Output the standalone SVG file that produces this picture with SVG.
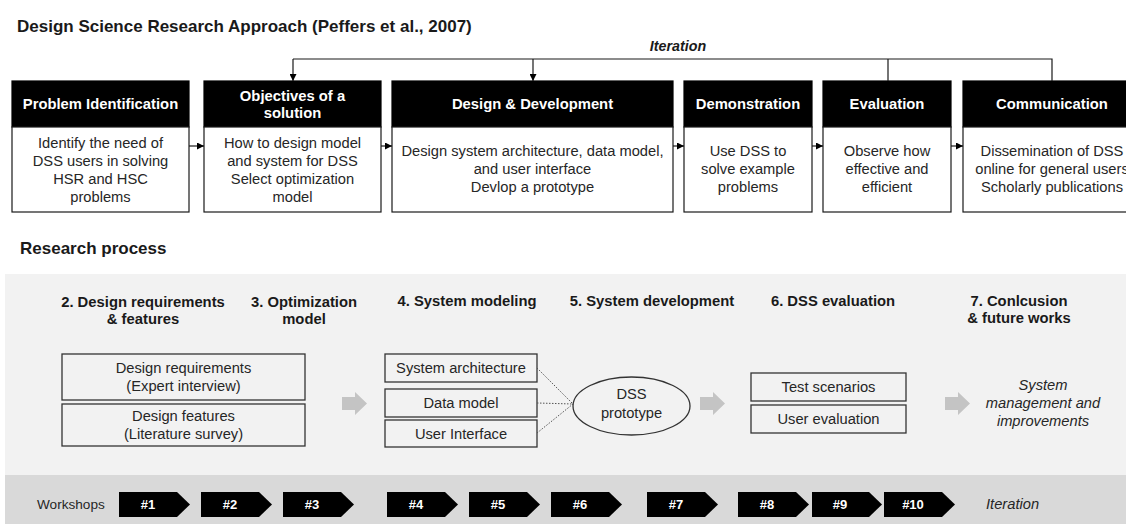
<svg xmlns="http://www.w3.org/2000/svg" width="1126" height="524" viewBox="0 0 1126 524">
<defs>
<style>
text{font-family:"Liberation Sans",Arial,sans-serif;fill:#1a1a1a}
.t{font-size:17px;font-weight:bold}
.hd{font-size:14.8px;font-weight:bold;fill:#fff;text-anchor:middle}
.bd{font-size:14.7px;text-anchor:middle;fill:#262626}
.hb{fill:#000;stroke:#000;stroke-width:1.2}
.bb{fill:#fff;stroke:#1a1a1a;stroke-width:1.2}
.sec{font-size:14.8px;font-weight:bold;text-anchor:middle}
.lb{fill:none;stroke:#333;stroke-width:1.3}
.ln{fill:none;stroke:#1a1a1a;stroke-width:1.2}
.dot{stroke:#555;stroke-width:1;stroke-dasharray:1.5,1.5;fill:none}
.ga{fill:#c4c4c4}
.chev{fill:#000}
.ct{font-size:13px;font-weight:bold;fill:#fff;text-anchor:middle}
.it{font-size:14.7px;font-style:italic;text-anchor:middle;fill:#262626}
</style>
<marker id="ah" viewBox="0 0 10 10" refX="10" refY="5" markerWidth="7" markerHeight="7" markerUnits="userSpaceOnUse" orient="auto">
<path d="M0,0 L10,5 L0,10 Z" fill="#000"/>
</marker>
</defs>
<rect width="1126" height="524" fill="#fff"/>
<text class="t" x="17" y="32">Design Science Research Approach (Peffers et al., 2007)</text>
<text x="678" y="51" style="font-size:14.3px;font-weight:bold;font-style:italic" text-anchor="middle">Iteration</text>

<g id="problem-identification">
<rect class="hb" x="12" y="81" width="177" height="46"/>
<rect class="bb" x="12" y="127" width="177" height="85"/>
<text class="hd" x="100.5" y="109">Problem Identification</text>
<text class="bd" x="100.5" y="148">Identify the need of</text>
<text class="bd" x="100.5" y="166">DSS users in solving</text>
<text class="bd" x="100.5" y="184">HSR and HSC</text>
<text class="bd" x="100.5" y="202">problems</text>
</g>
<g id="objectives">
<rect class="hb" x="204" y="81" width="177" height="46"/>
<rect class="bb" x="204" y="127" width="177" height="85"/>
<text class="hd" x="292.5" y="101">Objectives of a</text>
<text class="hd" x="292.5" y="118">solution</text>
<text class="bd" x="292.5" y="148">How to design model</text>
<text class="bd" x="292.5" y="166">and system for DSS</text>
<text class="bd" x="292.5" y="184">Select optimization</text>
<text class="bd" x="292.5" y="202">model</text>
</g>
<g id="design-development">
<rect class="hb" x="392" y="81" width="281" height="46"/>
<rect class="bb" x="392" y="127" width="281" height="85"/>
<text class="hd" x="532.5" y="109">Design &amp; Development</text>
<text class="bd" x="532.5" y="156">Design system architecture, data model,</text>
<text class="bd" x="532.5" y="174">and user interface</text>
<text class="bd" x="532.5" y="192">Devlop a prototype</text>
</g>
<g id="demonstration">
<rect class="hb" x="684" y="81" width="128" height="46"/>
<rect class="bb" x="684" y="127" width="128" height="85"/>
<text class="hd" x="748" y="109">Demonstration</text>
<text class="bd" x="748" y="156">Use DSS to</text>
<text class="bd" x="748" y="174">solve example</text>
<text class="bd" x="748" y="192">problems</text>
</g>
<g id="evaluation">
<rect class="hb" x="823" y="81" width="128" height="46"/>
<rect class="bb" x="823" y="127" width="128" height="85"/>
<text class="hd" x="887" y="109">Evaluation</text>
<text class="bd" x="887" y="156">Observe how</text>
<text class="bd" x="887" y="174">effective and</text>
<text class="bd" x="887" y="192">efficient</text>
</g>
<g id="communication">
<rect class="hb" x="963" y="81" width="178" height="46"/>
<rect class="bb" x="963" y="127" width="178" height="85"/>
<text class="hd" x="1052" y="109">Communication</text>
<text class="bd" x="1052" y="156">Dissemination of DSS</text>
<text class="bd" x="1052" y="174">online for general users</text>
<text class="bd" x="1052" y="192">Scholarly publications</text>
</g>

<g id="top-connectors">
<path class="ln" d="M189,146 H204" marker-end="url(#ah)"/>
<path class="ln" d="M381,146 H392" marker-end="url(#ah)"/>
<path class="ln" d="M673,146 H684" marker-end="url(#ah)"/>
<path class="ln" d="M812,146 H823" marker-end="url(#ah)"/>
<path class="ln" d="M951,146 H963" marker-end="url(#ah)"/>
<path class="ln" d="M293,59 H1052 V81 M888,59 V81"/>
<path class="ln" d="M293,59 V81" marker-end="url(#ah)"/>
<path class="ln" d="M533,59 V81" marker-end="url(#ah)"/>
</g>

<text class="t" x="20" y="254">Research process</text>
<rect x="5" y="274" width="1121" height="201" fill="#f2f2f2"/>
<rect x="5" y="475" width="1121" height="49" fill="#d9d9d9"/>

<text class="sec" x="143" y="307">2. Design requirements</text>
<text class="sec" x="143" y="324">&amp; features</text>
<text class="sec" x="304" y="307">3. Optimization</text>
<text class="sec" x="304" y="324">model</text>
<text class="sec" x="467" y="306">4. System modeling</text>
<text class="sec" x="652" y="306">5. System development</text>
<text class="sec" x="833" y="306">6. DSS evaluation</text>
<text class="sec" x="1019" y="306">7. Conlcusion</text>
<text class="sec" x="1019" y="323">&amp; future works</text>

<g id="design-requirements">
<rect class="lb" x="62" y="354" width="243" height="46"/>
<text class="bd" x="183.5" y="373">Design requirements</text>
<text class="bd" x="183.5" y="391">(Expert interview)</text>
</g>
<g id="design-features">
<rect class="lb" x="62" y="404" width="243" height="42"/>
<text class="bd" x="183.5" y="421">Design features</text>
<text class="bd" x="183.5" y="439">(Literature survey)</text>
</g>
<g id="system-architecture">
<rect class="lb" x="385" y="354" width="152" height="28"/>
<text class="bd" x="461" y="373">System architecture</text>
</g>
<g id="data-model">
<rect class="lb" x="385" y="389" width="152" height="28"/>
<text class="bd" x="461" y="408">Data model</text>
</g>
<g id="user-interface">
<rect class="lb" x="385" y="420" width="152" height="27"/>
<text class="bd" x="461" y="439">User Interface</text>
</g>
<g id="dss-prototype">
<ellipse class="lb" cx="631.5" cy="406" rx="58.5" ry="29"/>
<text class="bd" x="631.5" y="399">DSS</text>
<text class="bd" x="631.5" y="418">prototype</text>
</g>
<g id="test-scenarios">
<rect class="lb" x="751" y="373" width="155" height="28"/>
<text class="bd" x="828.5" y="392">Test scenarios</text>
</g>
<g id="user-evaluation">
<rect class="lb" x="751" y="405" width="155" height="28"/>
<text class="bd" x="828.5" y="424">User evaluation</text>
</g>
<g id="conclusion">
<text class="it" x="1043" y="390">System</text>
<text class="it" x="1043" y="408">management and</text>
<text class="it" x="1043" y="426">improvements</text>
</g>

<g id="process-connectors">
<path class="dot" d="M537,368 L573,404 M537,403 L573,404 M537,433 L573,404"/>
<path class="ga" d="M342,397 H355 V392 L367,403.5 L355,415 V410 H342 Z"/>
<path class="ga" d="M700,397 H713 V392 L725,403.5 L713,415 V410 H700 Z"/>
<path class="ga" d="M945,397 H958 V392 L970,403.5 L958,415 V410 H945 Z"/>
</g>

<text x="37" y="509" style="font-size:13.6px;fill:#262626">Workshops</text>
<g id="workshop-1"><path class="chev" d="M119,492 H177 L190,504.5 L177,517 H119 Z"/><text class="ct" x="148" y="509">#1</text></g>
<g id="workshop-2"><path class="chev" d="M201,492 H259 L272,504.5 L259,517 H201 Z"/><text class="ct" x="230" y="509">#2</text></g>
<g id="workshop-3"><path class="chev" d="M283,492 H341 L354,504.5 L341,517 H283 Z"/><text class="ct" x="312" y="509">#3</text></g>
<g id="workshop-4"><path class="chev" d="M387,492 H445 L458,504.5 L445,517 H387 Z"/><text class="ct" x="416" y="509">#4</text></g>
<g id="workshop-5"><path class="chev" d="M469,492 H527 L540,504.5 L527,517 H469 Z"/><text class="ct" x="498" y="509">#5</text></g>
<g id="workshop-6"><path class="chev" d="M551,492 H609 L622,504.5 L609,517 H551 Z"/><text class="ct" x="580" y="509">#6</text></g>
<g id="workshop-7"><path class="chev" d="M647,492 H705 L718,504.5 L705,517 H647 Z"/><text class="ct" x="676" y="509">#7</text></g>
<g id="workshop-8"><path class="chev" d="M738,492 H796 L809,504.5 L796,517 H738 Z"/><text class="ct" x="767" y="509">#8</text></g>
<g id="workshop-9"><path class="chev" d="M812,492 H869 L882,504.5 L869,517 H812 Z"/><text class="ct" x="840" y="509">#9</text></g>
<g id="workshop-10"><path class="chev" d="M884,492 H942 L955,504.5 L942,517 H884 Z"/><text class="ct" x="913" y="509">#10</text></g>
<text x="986" y="509" style="font-size:14.7px;font-style:italic;fill:#262626">Iteration</text>
</svg>
